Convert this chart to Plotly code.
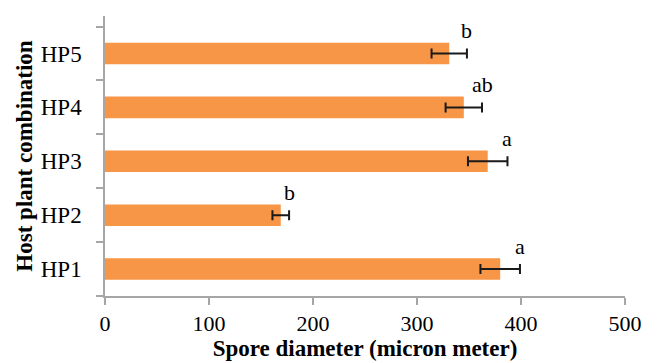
import plotly.graph_objects as go

categories = ["HP1", "HP2", "HP3", "HP4", "HP5"]
spore_diameter = [380, 169, 368, 345, 331]
std_error = [19, 8, 19, 17.5, 17]
significance = ["a", "b", "a", "ab", "b"]
x_ticks = [0, 100, 200, 300, 400, 500]

FONT = "Liberation Serif, Times New Roman, serif"
AXIS_GRAY = "#A6A6A6"

fig = go.Figure()
fig.add_trace(go.Bar(
    y=categories,
    x=spore_diameter,
    orientation="h",
    marker=dict(color="#F79646", line=dict(width=0)),
    error_x=dict(type="data", array=std_error, visible=True,
                 color="#1a1a1a", thickness=2, width=5),
    showlegend=False,
))

for cat, val, err, lab in zip(categories, spore_diameter, std_error, significance):
    fig.add_annotation(x=val + err, y=cat, text=lab, showarrow=False,
                       xanchor="center", yanchor="middle", yshift=23,
                       font=dict(family=FONT, size=22, color="black"))

# page body has an 8px margin, so the figure is sized to fit the window
fig.update_layout(
    width=649, height=355,
    margin=dict(l=97, r=32, t=8, b=67, autoexpand=False),
    plot_bgcolor="white", paper_bgcolor="white",
    bargap=0.6,
    font=dict(family=FONT, size=22, color="black"),
)
fig.update_xaxes(
    range=[0, 500], tickvals=x_ticks, ticktext=[str(v) for v in x_ticks],
    showline=True, linecolor=AXIS_GRAY, linewidth=1.5,
    ticks="outside", ticklen=7, tickcolor=AXIS_GRAY, tickwidth=1.5,
    showgrid=False, zeroline=False,
    tickfont=dict(family=FONT, size=22, color="black"),
    title=dict(text="<b>Spore diameter (micron meter)</b>", standoff=4,
               font=dict(family=FONT, size=23, color="black")),
    automargin=False,
)
fig.update_yaxes(
    showline=True, linecolor=AXIS_GRAY, linewidth=1.5,
    ticks="outside", tickson="boundaries", ticklen=7, tickcolor=AXIS_GRAY, tickwidth=1.5,
    showgrid=False, zeroline=False,
    tickfont=dict(family=FONT, size=23, color="black"),
    ticklabelstandoff=17,
    title=dict(text="<b>Host plant combination</b>", standoff=2,
               font=dict(family=FONT, size=23, color="black")),
    automargin=False,
)

fig.write_html("out.html")
